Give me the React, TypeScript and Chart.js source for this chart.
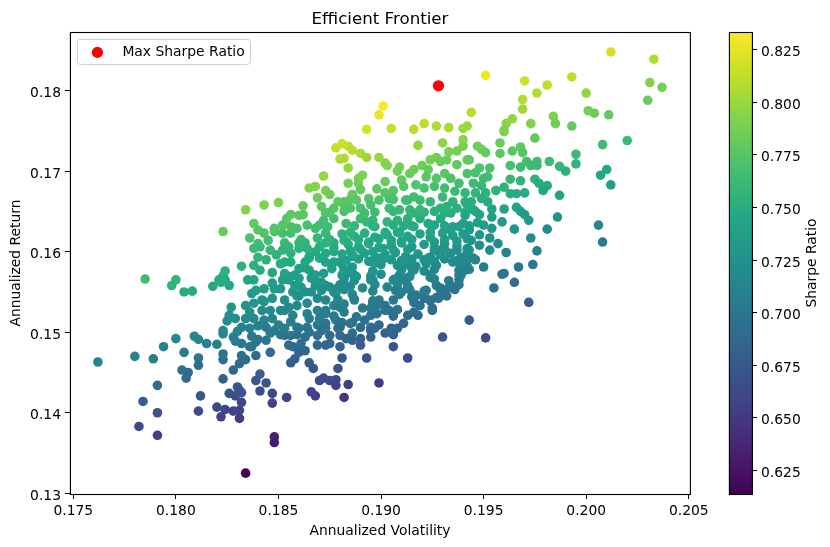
import React, { useEffect, useRef } from "react";
import { Chart, registerables } from "chart.js";

Chart.register(...registerables);

const FONT = "'DejaVu Sans'";
const titleText = "Efficient Frontier";
const xLabel = "Annualized Volatility";
const yLabel = "Annualized Return";
const colorbarLabel = "Sharpe Ratio";
const legendLabel = "Max Sharpe Ratio";

const xTicks = [0.175, 0.18, 0.185, 0.19, 0.195, 0.2, 0.205];
const yTicks = [0.13, 0.14, 0.15, 0.16, 0.17, 0.18];
const colorbarTicks = [0.625, 0.65, 0.675, 0.7, 0.725, 0.75, 0.775, 0.8, 0.825];

const xRange = [0.17484, 0.20506];
const yRange = [0.12991, 0.18728];
const sharpeRange = [0.6138, 0.8334];

const maxSharpeVol = [0.1928];
const maxSharpeRet = [0.1806];

const viridisStops = ["#440154", "#482475", "#414487", "#355f8d", "#2a788e", "#21918c", "#22a884", "#44bf70", "#7ad151", "#bddf26", "#fde725"];

const volatility = [
  .2012,.2033,.2031,.2037,.2030,.1951,.1970,.1993,.1981,.1976,.2000,.1969,.1901,.1899,.1944,.1969,.1964,.1961,.2001,.2004,.2011,.1984,.1985,.1993,.1973,.1893,.1905,.1916,.1921,.1927,.1933,.1942,.1940,.1960,
  .1975,.1960,.1947,.1949,.1951,.1958,.1958,.1964,.1968,.1969,.1995,.1995,.1982,.1987,.1990,.1971,.1976,.1973,.1976,.1963,.1968,.1943,.1963,.1968,.1975,.1977,.1981,.1979,.1987,.1960,.1956,.1963,.1966,.1970,
  .1960,.1966,.1968,.1970,.1972,.1986,.1959,.1981,.1965,.2006,.2008,.2007,.1954,.1954,.1947,.1946,.1954,.1952,.1951,.1953,.1952,.1948,.1946,.1945,.1949,.1950,.1946,.1949,.1944,.1945,
  .1973,.1976,.1961,.1953,.1957,.1953,.1948,.2008,.1944,.1945,.1943,.1950,.1967,.1974,.1960,.1959,.1965,.1955,.1972,.1943,
  .1930,.1951,.1906,.1902,.1906,.1913,.1893,.1881,.1879,.1899,.1884,.1878,.1878,.1875,.1872,.1870,.1882,.1868,.1866,.1854,.1847,.1847,.1848,.1848,.1841,.1844,.1839,.1841,.1867,.1865,.1856,.1858,.1846,.1839,.1837,
  .1834,.1762,.1780,.1789,.1794,.1800,.1809,.1811,.1815,.1820,.1804,.1811,.1811,.1803,.1806,.1805,.1791,.1784,.1791,.1782,.1791,.1812,.1811,.1820,.1822,.1824,.1828,.1831,.1831,.1832,
  .1826,.1829,.1832,.1830,.1831,.1823,.1828,.1831,.1834,.1832,.1823,.1823,.1828,.1829,.1832,.1836,.1830,.1823,.1837,.1840,.1844,.1846,
  .1851,.1855,.1857,.1859,.1863,.1861,.1863,.1860,.1869,.1869,.1873,.1875,
  .1785,.1800,.1798,.1804,.1808,.1818,.1822,.1824,.1823,.1823,.1821,.1826,.1824,.1832,.1838,.1835,.1838,.1840,.1844,.1838,.1840,.1841,.1841,.1847,.1847,
  .1827,.1826,.1825,.1834,.1832,.1823,.1837,.1839,.1843,.1838,.1843,.1836,.1842,.1847,.1838,.1843,.1847,.1850,.1844,.1849,.1851,.1856,.1853,.1855,.1851,.1853,.1857,
  .1860,.1864,.1865,.1870,.1873,.1861,.1869,.1873,.1852,.1848,.1843,.1856,.1855,.1860,.1865,.1872,.1876,.1869,.1875,.1861,.1856,
  .1855,.1859,.1864,.1869,.1873,.1878,.1864,.1869,.1873,.1877,.1856,.1869,.1873,.1878,.1859,.1864,
  .1834,.1843,.1850,.1838,.1840,.1848,.1865,.1868,.1872,.1873,.1875,.1869,.1862,.1856,.1854,.1862,.1871,.1864,.1856,.1859,.1873,.1872,.1870,.1877,.1879,.1877,.1874,.1878,.1880,
  .1918,.1881,.1884,.1886,.1890,.1893,.1882,.1884,.1899,.1902,.1903,.1891,.1889,.1889,.1884,.1902,.1898,.1886,.1882,.1888,.1906,.1902,.1894,.1904,
  .1909,.1908,.1910,.1911,.1914,.1916,.1920,.1923,.1924,.1927,.1929,.1932,.1930,.1933,.1937,.1940,.1940,.1937,.1942,
  .1917,.1922,.1927,.1931,.1934,.1938,.1942,.1916,.1921,.1926,.1931,.1936,.1941,.1912,.1919,.1924,.1930,.1935,.1941,
  .1899,.1895,.1890,.1885,.1882,.1904,.1909,.1914,.1883,.1890,.1893,.1896,.1903,.1908,.1913,.1919,.1923,.1929,.1934,.1932,.1937,.1940,.1935,
  .1881,.1887,.1892,.1897,.1903,.1908,.1913,.1919,.1924,.1930,.1935,.1940,
  .1884,.1889,.1894,.1899,.1905,.1910,.1915,.1921,.1926,.1931,.1937,.1942,
  .1881,.1886,.1892,.1897,.1902,.1907,.1912,.1918,.1924,.1929,.1934,.1939,
  .1881,.1886,.1897,.1900,.1912,.1917,.1922,.1927,.1938,.1942,
  .1883,.1888,.1895,.1900,.1909,.1914,.1911,.1924,.1938,
  .1880,.1885,.1891,.1897,.1903,.1908,.1913,.1927,.1933,.1938,
  .1886,.1899,.1909,.1915,.1921,.1927,.1932,
  .1891,.1896,.1902,.1908,.1916,.1921,.1925,.1928,.1880,.1882,
  .1888,.1892,.1895,.1898,.1904,.1918,.1916,.1913,.1911,.1908,.1905,.1890,.1895,.1899,.1881,.1885,.1880,.1925,
  .1839,.1852,.1856,.1860,.1875,.1880,.1880,.1883,.1886,.1890,.1890,.1895,.1895,
  .1883,.1889,.1894,.1899,.1905,.1910,.1915,.1926,.1931,.1937,.1942,
  .1885,.1890,.1896,.1901,.1906,.1913,.1926,.1931,.1937,.1942,
  .1883,.1889,.1894,.1899,.1905,.1910,.1915,.1921,.1926,.1931,.1937,.1942,
  .1885,.1896,.1910,.1915,.1921,.1926,.1938,
  .1882,.1887,.1896,.1907,.1912,.1926,.1933,.1938,
  .1882,.1896,.1907,.1914,.1921,.1929,.1936,
  .1887,.1896,.1906,.1916,.1924,
  .1882,.1892,.1897,.1906,.1916,.1921,.1926,.1931,.1941,
  .1887,.1897,.1906,.1911,.1916,.1926,.1931,.1938,.1943,
  .1853,.1863,.1873,.1877,.1868,.1877,.1853,.1863,.1873,.1877,.1858,.1868,.1858,.1868,.1873,.1863,.1877,.1853,.1873,.1853,.1873,
  .1834,.1840,.1829,.1836,.1846,.1842,.1942,.1948,.1950,.1943,.1948,.1943,.1946,.2010,.2012,.2020,
  .1860,.1865,.1870,.1877,.1880,.1852,.1856,.1863,.1852,.1848,
  .1860,.1866,.1871,.1881,.1879,.1860,.1866,.1871,.1879,.1859,
  .1851,.1857,.1865,.1870,.1877,.1882,.1848,.1853,.1860,.1865,.1871,.1879,.1886,
  .1887,.1886,.1895,.1898,.1906,.1902,.1897,
  .1910,.1917,.1922,.1929,.1934,.1939,.1919,.1924,.1931,
  .1886,.1896,.1902,.1908,.1914,.1923,.1929,.1935,.1941,.1916,
  .1882,.1887,.1882,.1895,.1906,.1913,.1924,
  .1885,.1896,.1902,.1909,.1915,.1924,.1934,.1941,.1919,.1885,.1906,.1929,.1890,.1913,
  .1875,.1882,.1868,.1860,.1852,.1875,.1845,.1836,.1846,
];

const annualReturn = [
  .1848,.1839,.1810,.1804,.1788,.1819,.1812,.1817,.1807,.1797,.1797,.1789,.1781,.1770,.1773,.1777,.1765,.1759,.1775,.1772,.1770,.1768,.1759,.1756,.1759,.1752,.1753,.1752,.1759,.1756,.1754,.1756,.1753,.1751,
  .1741,.1749,.1731,.1727,.1723,.1735,.1722,.1725,.1730,.1723,.1721,.1709,.1712,.1706,.1700,.1712,.1712,.1707,.1707,.1707,.1705,.1714,.1690,.1688,.1690,.1685,.1682,.1676,.1670,.1680,.1676,.1672,.1672,.1673,
  .1653,.1655,.1650,.1646,.1639,.1643,.1637,.1628,.1628,.1633,.1733,.1695,.1643,.1629,.1636,.1650,.1653,.1662,.1673,.1704,.1693,.1704,.1698,.1685,.1682,.1691,.1673,.1666,.1662,.1652,
  .1617,.1601,.1599,.1602,.1610,.1617,.1621,.1612,.1614,.1592,.1578,.1581,.1581,.1584,.1573,.1572,.1562,.1555,.1537,.1515,
  .1494,.1493,.1482,.1499,.1497,.1468,.1468,.1468,.1455,.1437,.1435,.1434,.1441,.1440,.1443,.1440,.1419,.1421,.1426,.1419,.1424,.1412,.1370,.1363,.1427,.1437,.1440,.1448,.1455,.1462,.1462,.1467,.1475,.1471,.1482,
  .1325,.1463,.1470,.1467,.1482,.1492,.1495,.1491,.1486,.1485,.1475,.1468,.1459,.1453,.1450,.1443,.1434,.1414,.1400,.1383,.1372,.1421,.1402,.1407,.1395,.1404,.1402,.1403,.1393,.1413,
  .1424,.1421,.1425,.1432,.1428,.1442,.1453,.1461,.1466,.1471,.1466,.1473,.1494,.1489,.1486,.1482,.1501,.1498,.1495,.1491,.1490,.1499,
  .1497,.1484,.1482,.1497,.1494,.1486,.1477,.1475,.1496,.1484,.1484,.1496,
  .1566,.1565,.1558,.1550,.1551,.1557,.1562,.1576,.1570,.1625,.1565,.1558,.1565,.1582,.1583,.1565,.1565,.1593,.1590,.1604,.1610,.1606,.1577,.1574,.1561,
  .1531,.1521,.1514,.1533,.1506,.1502,.1548,.1552,.1554,.1536,.1538,.1525,.1527,.1542,.1517,.1515,.1517,.1509,.1506,.1596,.1585,.1598,.1573,.1565,.1554,.1540,.1550,
  .1604,.1604,.1594,.1606,.1598,.1615,.1617,.1623,.1623,.1625,.1623,.1623,.1606,.1579,.1577,.1573,.1579,.1561,.1556,.1556,.1569,
  .1531,.1533,.1536,.1542,.1540,.1548,.1523,.1527,.1523,.1533,.1513,.1509,.1511,.1515,.1506,.1506,
  .1652,.1658,.1661,.1635,.1627,.1629,.1679,.1681,.1694,.1676,.1671,.1667,.1657,.1646,.1641,.1646,.1656,.1633,.1631,.1629,.1648,.1639,.1633,.1654,.1662,.1641,.1631,.1729,.1715,
  .1732,.1734,.1731,.1726,.1722,.1717,.1716,.1704,.1717,.1710,.1707,.1695,.1691,.1685,.1685,.1687,.1678,.1671,.1662,.1664,.1676,.1673,.1666,.1666,
  .1705,.1700,.1689,.1681,.1697,.1702,.1707,.1702,.1714,.1717,.1712,.1714,.1735,.1724,.1725,.1739,.1731,.1708,.1714,
  .1683,.1693,.1691,.1697,.1691,.1685,.1697,.1668,.1679,.1681,.1679,.1675,.1673,.1664,.1664,.1662,.1668,.1662,.1662,
  .1664,.1658,.1654,.1654,.1658,.1654,.1652,.1652,.1635,.1641,.1637,.1639,.1637,.1639,.1641,.1641,.1635,.1641,.1648,.1656,.1654,.1635,.1631,
  .1622,.1619,.1623,.1618,.1621,.1624,.1619,.1622,.1618,.1623,.1620,.1622,
  .1609,.1606,.1610,.1605,.1608,.1611,.1606,.1609,.1605,.1610,.1607,.1604,
  .1597,.1594,.1598,.1593,.1596,.1599,.1594,.1597,.1593,.1596,.1598,.1593,
  .1584,.1581,.1586,.1584,.1584,.1582,.1585,.1583,.1586,.1582,
  .1572,.1569,.1570,.1572,.1571,.1569,.1567,.1568,.1571,
  .1559,.1557,.1555,.1559,.1556,.1559,.1556,.1558,.1555,.1559,
  .1547,.1540,.1547,.1544,.1546,.1543,.1545,
  .1530,.1536,.1533,.1528,.1537,.1542,.1530,.1542,.1531,.1525,
  .1519,.1515,.1521,.1523,.1527,.1521,.1525,.1521,.1511,.1505,.1505,.1506,.1506,.1509,.1512,.1511,.1506,.1527,
  .1488,.1498,.1496,.1477,.1486,.1496,.1482,.1492,.1490,.1492,.1484,.1494,.1502,
  .1613,.1615,.1612,.1616,.1614,.1613,.1615,.1612,.1615,.1613,.1616,
  .1601,.1603,.1600,.1604,.1602,.1603,.1601,.1603,.1602,.1600,
  .1589,.1591,.1588,.1592,.1590,.1589,.1591,.1590,.1588,.1591,.1589,.1590,
  .1578,.1576,.1577,.1579,.1576,.1578,.1577,
  .1566,.1564,.1565,.1566,.1564,.1566,.1564,.1565,
  .1553,.1551,.1552,.1553,.1551,.1552,.1553,
  .1541,.1539,.1540,.1541,.1539,
  .1650,.1648,.1649,.1650,.1648,.1649,.1650,.1648,.1649,
  .1632,.1631,.1633,.1632,.1631,.1633,.1632,.1631,.1632,
  .1611,.1611,.1611,.1611,.1600,.1600,.1587,.1587,.1587,.1587,.1571,.1571,.1558,.1558,.1558,.1550,.1550,.1527,.1527,.1505,.1505,
  .1517,.1508,.1517,.1505,.1527,.1540,.1658,.1646,.1633,.1627,.1608,.1602,.1590,.1702,.1683,.1738,
  .1611,.1592,.1592,.1605,.1587,.1602,.1587,.1580,.1565,.1554,
  .1567,.1567,.1562,.1571,.1555,.1545,.1550,.1552,.1540,.1545,
  .1527,.1521,.1517,.1517,.1520,.1535,.1502,.1496,.1505,.1500,.1502,.1505,.1499,
  .1540,.1512,.1530,.1533,.1520,.1527,.1505,
  .1550,.1546,.1552,.1555,.1558,.1571,.1533,.1540,.1546,
  .1596,.1587,.1592,.1583,.1587,.1592,.1602,.1587,.1577,.1577,
  .1577,.1571,.1558,.1565,.1565,.1558,.1571,
  .1624,.1632,.1624,.1624,.1632,.1624,.1627,.1645,.1652,.1665,.1665,.1654,.1677,.1664,
  .1615,.1614,.1629,.1645,.1633,.1649,.1614,.1617,.1602,
];

const sharpeRatio = [
  .819,.806,.793,.788,.782,.830,.818,.811,.811,.808,.798,.807,.832,.827,.809,.801,.797,.795,.787,.785,.781,.790,.785,.781,.790,.820,.815,.810,.812,.807,.804,.801,.800,.791,
  .780,.790,.786,.784,.781,.784,.777,.776,.778,.774,.763,.756,.763,.758,.754,.767,.765,.764,.763,.768,.765,.779,.759,.756,.754,.751,.748,.746,.740,.755,.755,.750,.749,.748,
  .741,.740,.737,.734,.730,.727,.733,.721,.727,.715,.764,.745,.738,.731,.737,.745,.743,.749,.755,.770,.765,.772,.769,.763,.760,.765,.757,.752,.752,.747,
  .718,.709,.713,.718,.721,.725,.729,.704,.727,.716,.709,.708,.702,.701,.700,.700,.693,.693,.678,.677,
  .670,.663,.673,.683,.680,.663,.670,.674,.668,.652,.656,.657,.661,.661,.664,.663,.648,.654,.657,.658,.663,.656,.633,.630,.667,.671,.674,.678,.672,.676,.680,.682,.691,.691,.698,
  .614,.717,.713,.708,.714,.718,.716,.713,.709,.706,.707,.700,.695,.695,.692,.689,.689,.680,.670,.664,.654,.674,.664,.663,.656,.660,.657,.657,.652,.662,
  .670,.667,.669,.673,.671,.681,.686,.689,.690,.694,.694,.698,.708,.705,.702,.698,.711,.712,.705,.702,.700,.704,
  .701,.692,.690,.698,.695,.691,.685,.686,.693,.687,.685,.691,
  .765,.758,.755,.748,.747,.746,.747,.754,.752,.782,.750,.744,.748,.754,.752,.744,.743,.757,.754,.764,.766,.764,.748,.744,.737,
  .729,.723,.720,.727,.713,.714,.734,.735,.735,.727,.726,.722,.721,.727,.717,.714,.713,.708,.708,.755,.748,.753,.741,.736,.732,.723,.727,
  .755,.753,.748,.752,.746,.760,.758,.760,.768,.771,.772,.767,.758,.741,.738,.734,.735,.728,.723,.729,.738,
  .717,.717,.717,.718,.715,.718,.710,.710,.706,.711,.707,.700,.700,.700,.702,.700,
  .792,.791,.790,.781,.776,.773,.793,.793,.798,.788,.785,.785,.782,.779,.777,.777,.778,.769,.771,.769,.773,.769,.766,.775,.778,.768,.764,.814,.806,
  .799,.816,.813,.809,.805,.801,.806,.798,.799,.794,.792,.791,.789,.786,.788,.782,.779,.780,.777,.775,.774,.774,.774,.770,
  .788,.786,.780,.775,.782,.784,.785,.781,.787,.787,.784,.783,.795,.788,.787,.793,.789,.778,.780,
  .773,.777,.774,.775,.771,.766,.771,.766,.770,.769,.766,.762,.759,.766,.763,.760,.761,.755,.753,
  .771,.769,.770,.771,.775,.764,.760,.759,.762,.762,.759,.759,.755,.754,.753,.750,.746,.747,.749,.754,.751,.740,.740,
  .756,.752,.752,.747,.747,.746,.742,.741,.737,.737,.734,.733,
  .748,.744,.744,.740,.739,.739,.734,.733,.729,.730,.726,.723,
  .743,.739,.739,.734,.734,.734,.729,.728,.724,.724,.723,.718,
  .736,.732,.731,.728,.724,.721,.721,.718,.715,.712,
  .729,.725,.723,.722,.718,.715,.715,.711,.707,
  .723,.720,.717,.716,.713,.712,.709,.705,.701,.701,
  .714,.706,.706,.702,.701,.697,.696,
  .703,.705,.700,.696,.698,.698,.691,.696,.708,.704,
  .699,.695,.697,.697,.697,.689,.692,.690,.686,.684,.685,.691,.689,.689,.698,.696,.695,.689,
  .700,.701,.698,.687,.686,.689,.682,.686,.684,.684,.679,.683,.687,
  .751,.749,.747,.745,.742,.740,.738,.734,.732,.730,.728,
  .744,.742,.739,.738,.736,.733,.728,.726,.724,.722,
  .738,.736,.734,.732,.730,.728,.726,.724,.722,.720,.718,.716,
  .731,.726,.721,.719,.717,.715,.711,
  .725,.723,.720,.716,.714,.709,.706,.704,
  .718,.713,.709,.706,.704,.701,.698,
  .710,.707,.703,.699,.696,
  .770,.766,.764,.760,.756,.754,.752,.750,.747,
  .759,.755,.751,.749,.747,.744,.742,.739,.737,
  .761,.757,.753,.752,.749,.746,.748,.744,.741,.739,.738,.734,.731,.727,.725,.725,.719,.716,.709,.704,.697,
  .718,.711,.720,.711,.719,.727,.751,.742,.735,.734,.723,.721,.714,.747,.737,.761,
  .758,.746,.744,.749,.738,.757,.747,.741,.737,.733,
  .735,.733,.728,.729,.721,.723,.724,.723,.713,.724,
  .717,.711,.706,.704,.703,.709,.705,.699,.702,.697,.696,.695,.689,
  .710,.696,.702,.702,.692,.697,.688,
  .707,.702,.704,.702,.702,.707,.695,.696,.697,
  .740,.732,.732,.725,.725,.724,.727,.717,.709,.719,
  .732,.727,.722,.720,.716,.710,.713,
  .755,.755,.749,.746,.748,.740,.738,.744,.757,.777,.768,.754,.781,.765,
  .755,.752,.765,.777,.774,.773,.767,.772,.759,
];

function hexToRgb(h: string) {
  return [1, 3, 5].map((i) => parseInt(h.slice(i, i + 2), 16));
}

function viridis(t: number) {
  const c = Math.max(0, Math.min(1, t)) * (viridisStops.length - 1);
  const i = Math.min(Math.floor(c), viridisStops.length - 2);
  const a = hexToRgb(viridisStops[i]);
  const b = hexToRgb(viridisStops[i + 1]);
  const f = c - i;
  const m = a.map((v, k) => Math.round(v + (b[k] - v) * f));
  return `rgb(${m[0]},${m[1]},${m[2]})`;
}

const sharpeColor = (s: number) => viridis((s - sharpeRange[0]) / (sharpeRange[1] - sharpeRange[0]));

const spinesPlugin = {
  id: "spines",
  afterDraw(chart: any) {
    const { ctx, chartArea: a } = chart;
    ctx.save();
    ctx.strokeStyle = "#000";
    ctx.lineWidth = 1.1;
    ctx.strokeRect(a.left + 0.4, a.top + 0.5, a.right - a.left, a.bottom - a.top);
    ctx.restore();
  },
};

const legendPlugin = {
  id: "mplLegend",
  afterDatasetsDraw(chart: any) {
    const { ctx, chartArea: a } = chart;
    const x = a.left + 7.4;
    const y = a.top + 7.4;
    ctx.save();
    ctx.beginPath();
    ctx.roundRect(x, y, 173, 25, 3);
    ctx.fillStyle = "rgba(255,255,255,0.8)";
    ctx.fill();
    ctx.strokeStyle = "#ccc";
    ctx.lineWidth = 1;
    ctx.stroke();
    ctx.beginPath();
    ctx.arc(x + 20, y + 13, 5.6, 0, Math.PI * 2);
    ctx.fillStyle = "red";
    ctx.fill();
    ctx.fillStyle = "#000";
    ctx.font = `13.89px ${FONT}`;
    ctx.textBaseline = "middle";
    ctx.textAlign = "left";
    ctx.fillText(legendLabel, x + 45, y + 12.5);
    ctx.restore();
  },
};

const gradientPlugin = {
  id: "colorbarFill",
  beforeDatasetsDraw(chart: any) {
    const { ctx, chartArea: a } = chart;
    const g = ctx.createLinearGradient(0, a.bottom, 0, a.top);
    viridisStops.forEach((c, i) => g.addColorStop(i / (viridisStops.length - 1), c));
    ctx.save();
    ctx.fillStyle = g;
    ctx.fillRect(a.left, a.top, a.right - a.left, a.bottom - a.top);
    ctx.restore();
  },
  afterDraw(chart: any) {
    const { ctx, chartArea: a } = chart;
    ctx.save();
    ctx.translate(92, (a.top + a.bottom) / 2);
    ctx.rotate(-Math.PI / 2);
    ctx.font = `13.89px ${FONT}`;
    ctx.fillStyle = "#000";
    ctx.textAlign = "center";
    ctx.textBaseline = "middle";
    ctx.fillText(colorbarLabel, 0, 0);
    ctx.restore();
  },
};

const axisCommon = {
  grid: { drawOnChartArea: false, drawTicks: true, tickLength: 5, tickColor: "#000", tickWidth: 1 },
  border: { display: true, color: "#000", width: 1 },
};

export default function App() {
  const mainRef = useRef<HTMLCanvasElement>(null);
  const barRef = useRef<HTMLCanvasElement>(null);

  useEffect(() => {
    const tickFont = { family: FONT, size: 13.89 };
    const main = new Chart(mainRef.current!, {
      type: "scatter",
      data: {
        datasets: [
          {
            label: legendLabel,
            data: maxSharpeVol.map((x, i) => ({ x, y: maxSharpeRet[i] })),
            pointRadius: 5.6,
            pointBorderWidth: 0,
            pointBackgroundColor: "red",
            order: 0,
          },
          {
            label: "Portfolios",
            data: volatility.map((x, i) => ({ x, y: annualReturn[i] })),
            pointRadius: 4.8,
            pointBorderWidth: 0,
            pointBackgroundColor: sharpeRatio.map(sharpeColor),
            order: 1,
          },
        ],
      },
      options: {
        responsive: false,
        animation: false,
        layout: { padding: { left: 0, right: 30, top: 0, bottom: 0 } },
        plugins: {
          legend: { display: false },
          tooltip: { enabled: false },
          title: {
            display: true,
            text: titleText,
            color: "#000",
            fullSize: false,
            font: { family: FONT, size: 16.67, weight: "normal" },
            padding: { top: 10, bottom: 2 },
          },
        },
        scales: {
          x: {
            type: "linear",
            min: xRange[0],
            max: xRange[1],
            ...axisCommon,
            afterBuildTicks: (s: any) => { s.ticks = xTicks.map((value) => ({ value })); },
            afterFit: (s: any) => { s.height = 53; },
            ticks: {
              color: "#000", font: tickFont, padding: 4, maxRotation: 0, autoSkip: false,
              callback: (v: any) => Number(v).toFixed(3),
            },
            title: { display: true, text: xLabel, color: "#000", font: tickFont, padding: { top: 0, bottom: 7 } },
          },
          y: {
            type: "linear",
            min: yRange[0],
            max: yRange[1],
            ...axisCommon,
            afterBuildTicks: (s: any) => { s.ticks = yTicks.map((value) => ({ value })); },
            afterFit: (s: any) => { s.width = 70; },
            ticks: {
              color: "#000", font: tickFont, padding: 4, autoSkip: false, labelOffset: 3,
              callback: (v: any) => Number(v).toFixed(2),
            },
            title: { display: true, text: yLabel, color: "#000", font: tickFont, padding: { top: 8, bottom: 0 } },
          },
        },
      } as any,
      plugins: [spinesPlugin, legendPlugin],
    });

    const bar = new Chart(barRef.current!, {
      type: "scatter",
      data: { datasets: [{ label: colorbarLabel, data: [] }] },
      options: {
        responsive: false,
        animation: false,
        layout: { padding: { left: 9, right: 0, top: 32, bottom: 53 } },
        plugins: { legend: { display: false }, tooltip: { enabled: false } },
        scales: {
          x: { display: false },
          y: {
            type: "linear",
            position: "right",
            min: sharpeRange[0],
            max: sharpeRange[1],
            ...axisCommon,
            afterBuildTicks: (s: any) => { s.ticks = colorbarTicks.map((value) => ({ value })); },
            afterFit: (s: any) => { s.width = 78; },
            ticks: {
              color: "#000", font: tickFont, padding: 4, autoSkip: false, labelOffset: 3,
              callback: (v: any) => Number(v).toFixed(3),
            },
          },
        },
      } as any,
      plugins: [gradientPlugin, spinesPlugin],
    });

    return () => {
      main.destroy();
      bar.destroy();
    };
  }, []);

  return (
    <div style={{ position: "absolute", left: 0, top: 0, width: 830, height: 547, background: "#fff" }}>
      <canvas ref={mainRef} width={720} height={547} style={{ position: "absolute", left: 0, top: 0 }} />
      <canvas ref={barRef} width={110} height={547} style={{ position: "absolute", left: 720, top: 0 }} />
    </div>
  );
}
